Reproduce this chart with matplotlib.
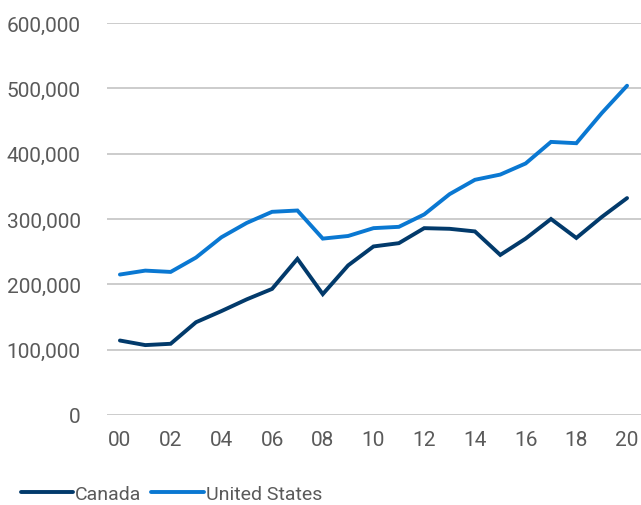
import matplotlib
matplotlib.use('Agg')
import matplotlib.pyplot as plt
from matplotlib.ticker import FuncFormatter

# Data (thousands)
years = list(range(0, 21))
canada = [114, 107, 109, 142, 159, 177, 193, 239, 185, 229, 258, 263, 286, 285, 281,
          245, 270, 300, 271, 303, 332]
united_states = [215, 221, 219, 241, 272, 294, 311, 313, 270, 274, 286, 288, 307, 338, 360,
                 368, 385, 418, 416, 462, 504]
xtick_years = list(range(0, 21, 2))
xtick_labels = [f"{y:02d}" for y in xtick_years]

plt.rcParams['font.family'] = ['Roboto', 'DejaVu Sans']

fig = plt.figure(figsize=(6.41, 5.06), dpi=100)
ax = fig.add_axes([107 / 641, 90 / 506, 534 / 641, 392 / 506])

ax.plot(years, [v * 1000 for v in canada], color='#023a6b', lw=2.8, label='Canada',
        solid_capstyle='round', solid_joinstyle='miter')
ax.plot(years, [v * 1000 for v in united_states], color='#0a78d2', lw=2.8,
        label='United States', solid_capstyle='round', solid_joinstyle='miter')

ax.set_xlim(-0.51, 20.55)
ax.set_ylim(0, 600000)
ax.set_yticks(range(0, 600001, 100000))
ax.yaxis.set_major_formatter(FuncFormatter(lambda v, p: f"{int(v):,}"))
ax.set_xticks(xtick_years)
ax.set_xticklabels(xtick_labels)

ax.grid(axis='y', color='#c4c4c4', lw=1.2)
ax.set_axisbelow(True)
for s in ax.spines.values():
    s.set_visible(False)
ax.tick_params(axis='both', length=0, labelsize=15, colors='#5a5a5a')
ax.tick_params(axis='y', pad=19)
ax.tick_params(axis='x', pad=11)

fig.legend(loc='lower left', bbox_to_anchor=(0.005, -0.03), ncol=2, frameon=False,
           handlelength=2.7, handletextpad=0.1, columnspacing=0.5,
           fontsize=14, labelcolor='#5a5a5a')

fig.savefig('out.png', dpi=100)
